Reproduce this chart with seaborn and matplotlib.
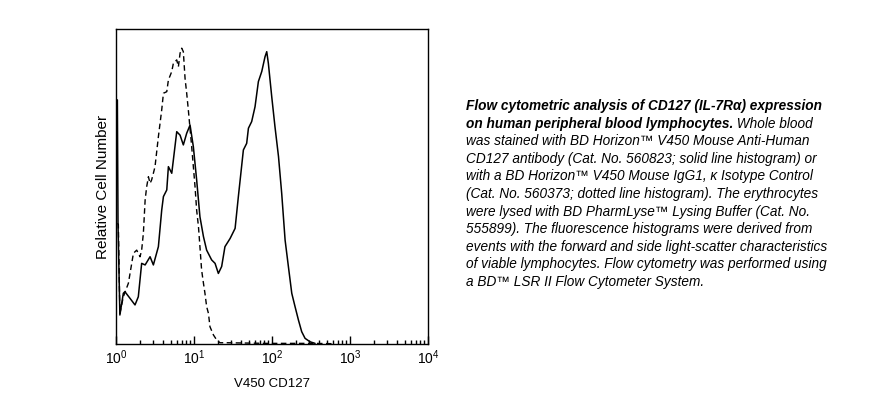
import numpy as np
import pandas as pd
import seaborn as sns
from matplotlib import pyplot as plt
from matplotlib.ticker import LogLocator, NullFormatter

# ------------------------------- Data ---------------------------------------------------------
# Solid line histogram: BD Horizon V450 Mouse Anti-Human CD127
cd127_intensity = [1.04, 1.06, 1.12, 1.24, 1.30, 1.51, 1.75, 1.93, 2.13, 2.36, 2.73, 3.01, 3.49,
                   3.85, 4.05, 4.47, 4.69, 5.18, 5.43, 6.00, 6.62, 7.29, 8.05, 8.89, 9.80, 10.8,
                   11.9, 13.2, 14.5, 16.8, 18.6, 20.5, 22.6, 24.9, 29.0, 33.6, 37.0, 42.9, 47.3,
                   49.8, 54.8, 60.5, 66.8, 73.8, 81.3, 85.5, 89.7, 99.1, 109, 121, 133, 147, 162,
                   179, 197, 218, 240, 265, 307, 356]
cd127_counts = [77.5, 38.0, 9.2, 16.1, 16.6, 14.5, 12.4, 15.0, 25.6, 25.1, 27.7, 25.1, 30.9,
                42.5, 46.8, 48.9, 56.3, 54.2, 58.4, 67.4, 66.3, 63.2, 66.9, 69.5, 62.6, 52.1,
                40.4, 34.1, 29.8, 26.7, 25.6, 22.4, 24.6, 30.9, 33.5, 36.7, 46.8, 61.6, 63.7,
                68.5, 70.6, 75.3, 83.3, 86.5, 91.2, 92.8, 89.1, 78.5, 69.0, 59.5, 47.8, 33.0,
                24.6, 16.1, 11.9, 7.6, 3.9, 1.8, 0.7, 0.2]

# Dotted line histogram: BD Horizon V450 Mouse IgG1, k Isotype Control
isotype_intensity = [1.04, 1.07, 1.12, 1.24, 1.44, 1.67, 1.84, 2.03, 2.13, 2.24, 2.36, 2.47,
                     2.60, 2.73, 2.86, 3.01, 3.16, 3.49, 3.85, 4.05, 4.47, 4.69, 5.18, 5.43,
                     6.00, 6.30, 6.62, 6.95, 7.29, 7.67, 8.05, 8.45, 9.33, 10.3, 10.8, 11.4,
                     11.9, 12.5, 13.2, 13.8, 14.5, 15.3, 16.0, 17.7, 19.5, 21.5, 26.2, 85.5,
                     339, 611]
isotype_counts = [38.3, 38.0, 9.7, 15.0, 19.3, 28.8, 29.8, 27.7, 29.8, 35.1, 45.7, 49.9,
                  53.1, 51.0, 52.1, 54.2, 56.3, 65.8, 74.3, 79.6, 80.1, 83.8, 86.5, 89.1,
                  90.2, 88.0, 92.3, 93.9, 92.8, 84.3, 79.6, 74.3, 62.6, 49.9, 42.5, 37.2,
                  30.9, 23.5, 19.3, 16.1, 11.9, 9.7, 5.5, 2.9, 1.3, 0.4, 0.4, 0.2,
                  0.2, 0.1]

x_label = "V450 CD127"
y_label = "Relative Cell Number"

caption_bold = ["Flow cytometric analysis of CD127 (IL-7R\u03b1) expression",
                "on human peripheral blood lymphocytes."]
caption_lines = [" Whole blood",
                 "was stained with BD Horizon\u2122 V450 Mouse Anti-Human",
                 "CD127 antibody (Cat. No. 560823; solid line histogram) or",
                 "with a BD Horizon\u2122 V450 Mouse IgG1, \u03ba Isotype Control",
                 "(Cat. No. 560373; dotted line histogram). The erythrocytes",
                 "were lysed with BD PharmLyse\u2122 Lysing Buffer (Cat. No.",
                 "555899). The fluorescence histograms were derived from",
                 "events with the forward and side light-scatter characteristics",
                 "of viable lymphocytes. Flow cytometry was performed using",
                 "a BD\u2122 LSR II Flow Cytometer System."]

# ------------------------------- Plot --------------------------------
sns.set_style("white")
plt.rcParams['font.family'] = ['Liberation Sans', 'DejaVu Sans']
plt.rcParams['mathtext.fontset'] = 'custom'
plt.rcParams['mathtext.rm'] = 'Liberation Sans'

cd127 = pd.DataFrame({"Intensity": cd127_intensity, "Count": cd127_counts})
isotype = pd.DataFrame({"Intensity": isotype_intensity, "Count": isotype_counts})

fig = plt.figure(figsize=(8.94, 3.96), dpi=100)
ax = fig.add_axes([0.1298, 0.1313, 0.349, 0.7955])

sns.lineplot(data=isotype, x="Intensity", y="Count", ax=ax, color="black",
             linewidth=1.0, linestyle=(0, (4, 2.5)), sort=False)
sns.lineplot(data=cd127, x="Intensity", y="Count", ax=ax, color="black",
             linewidth=1.1, sort=False)

ax.set_xscale("log")
ax.set_xlim(1, 1e4)
ax.set_ylim(0, 100)
ax.xaxis.set_major_locator(LogLocator(base=10, numticks=10))
ax.xaxis.set_minor_locator(LogLocator(base=10, subs=np.arange(2, 10), numticks=10))
ax.xaxis.set_minor_formatter(NullFormatter())
ax.tick_params(axis="x", which="major", bottom=True, direction="in", length=6, width=1,
               color="black", labelsize=10, pad=3, labelcolor="black")
ax.tick_params(axis="x", which="minor", bottom=True, direction="in", length=3, width=1,
               color="black")
ax.set_yticks([])

for side in ["left", "right", "top", "bottom"]:
    ax.spines[side].set_visible(True)
    ax.spines[side].set_color("black")
    ax.spines[side].set_linewidth(1.0)

ax.set_xlabel(x_label, fontsize=9.5, labelpad=8, color="black")
ax.set_ylabel(y_label, fontsize=11, labelpad=4, color="black")

# Caption block to the right of the histogram
x0 = 0.5213
y0 = 1 - 110 / 396
step = 17.6 / 396
fs = 9.8
fig.text(x0, y0, caption_bold[0], fontsize=fs, fontweight="bold", style="italic",
         va="baseline", color="black")
bold2 = fig.text(x0, y0 - step, caption_bold[1], fontsize=fs, fontweight="bold",
                 style="italic", va="baseline", color="black")
ax.annotate(caption_lines[0], xy=(1, 0), xycoords=bold2, va="bottom", ha="left",
            fontsize=fs, style="italic", color="black")
for i, line in enumerate(caption_lines[1:]):
    fig.text(x0, y0 - (i + 2) * step, line, fontsize=fs, style="italic",
             va="baseline", color="black")

fig.savefig("out.png", dpi=100)
